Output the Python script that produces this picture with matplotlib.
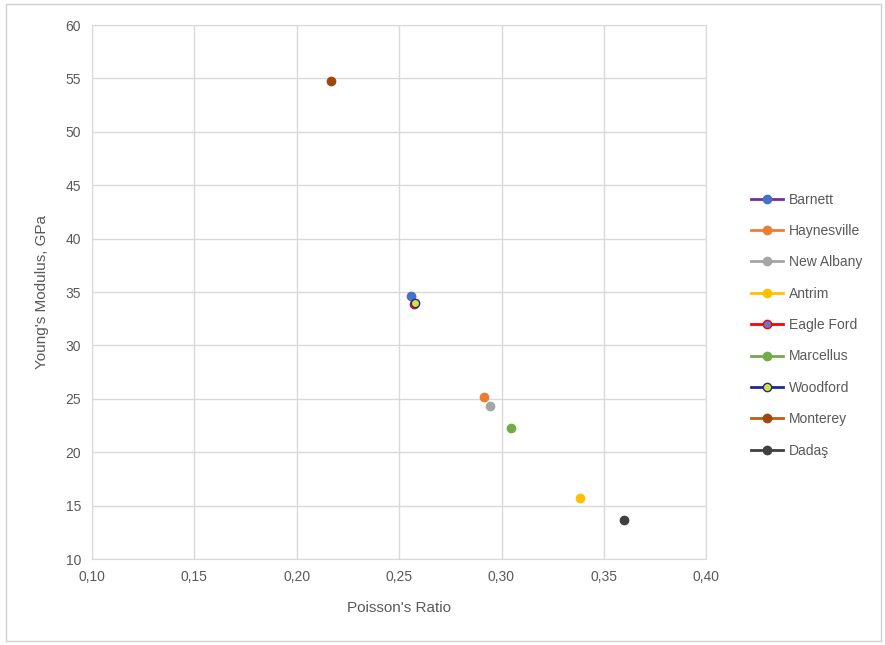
import matplotlib
matplotlib.use('Agg')
import matplotlib.pyplot as plt
from matplotlib.ticker import FuncFormatter, MultipleLocator
from matplotlib.patches import Rectangle

names = ['Barnett', 'Haynesville', 'New Albany', 'Antrim', 'Eagle Ford',
         'Marcellus', 'Woodford', 'Monterey', 'Dadaş']
poisson = [0.256, 0.2915, 0.2945, 0.3385, 0.2575, 0.3048, 0.2578, 0.2168, 0.3600]
young = [34.6, 25.2, 24.3, 15.7, 33.9, 22.3, 34.0, 54.8, 13.7]
line_colors = ['#7030A0', '#ED7D31', '#A5A5A5', '#FFC000', '#FF0000',
               '#70AD47', '#1F2A8C', '#C55A11', '#404040']
face_colors = ['#4472C4', '#ED7D31', '#A5A5A5', '#FFC000', '#5B7BD5',
               '#70AD47', '#D4E33A', '#9E480E', '#404040']

plt.rcParams['font.family'] = ['Liberation Sans', 'DejaVu Sans']
txt = '#595959'

fig = plt.figure(figsize=(8.85, 6.45), dpi=100)
ax = fig.add_axes([0.104, 0.1333, 0.694, 0.8278])

for i in range(len(names)):
    ax.plot([poisson[i]], [young[i]], marker='o', markersize=6,
            color=line_colors[i], markerfacecolor=face_colors[i],
            markeredgecolor=line_colors[i] if i in (4, 6) else face_colors[i],
            markeredgewidth=1, linestyle='-', linewidth=2, label=names[i])

ax.set_xlim(0.10, 0.40)
ax.set_ylim(10, 60)
ax.xaxis.set_major_locator(MultipleLocator(0.05))
ax.yaxis.set_major_locator(MultipleLocator(5))
ax.xaxis.set_major_formatter(FuncFormatter(lambda v, p: ('%.2f' % v).replace('.', ',')))
ax.grid(True, color='#D9D9D9', linewidth=1)
ax.set_axisbelow(True)
for s in ax.spines.values():
    s.set_color('#D9D9D9')
ax.tick_params(length=0, colors=txt, labelsize=10, pad=8)
ax.set_xlabel("Poisson's Ratio", color=txt, fontsize=11, labelpad=12)
ax.set_ylabel("Young's Modulus, GPa", color=txt, fontsize=11, labelpad=12)

leg = fig.legend(loc='center left', bbox_to_anchor=(0.835, 0.496), frameon=False,
                 fontsize=10, labelspacing=1.25, handlelength=2.3, handletextpad=0.4)
for t in leg.get_texts():
    t.set_color(txt)

fig.patches.append(Rectangle((0.007, 0.006), 0.989, 0.988, transform=fig.transFigure,
                             fill=False, edgecolor='#D0D0D0', linewidth=1))

plt.savefig('out.png')
